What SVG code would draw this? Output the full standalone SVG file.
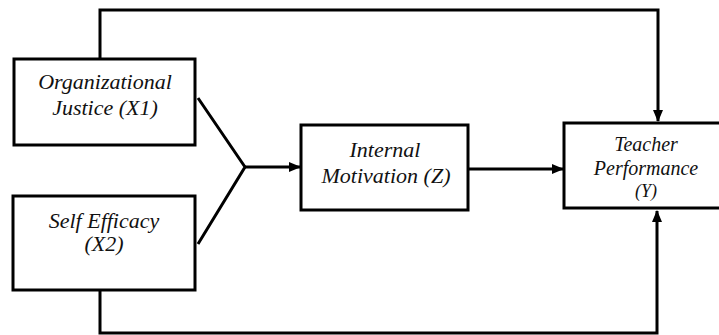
<svg xmlns="http://www.w3.org/2000/svg" width="719" height="335" viewBox="0 0 719 335">
<style>
.box{fill:#fff;stroke:#000;stroke-width:3}
.ln{fill:none;stroke:#000;stroke-width:3}
text{font-family:"Liberation Serif","Times New Roman",serif;font-style:italic;font-size:22px;text-anchor:middle;fill:#111}
.s{font-size:20px}
.t{font-size:18px}
</style>
<defs>
<marker id="ah" markerWidth="12" markerHeight="10" refX="11" refY="5" orient="auto" markerUnits="userSpaceOnUse">
<path d="M0,0 L12,5 L0,10 Z" fill="#000"/>
</marker>
</defs>
<g id="connectors">
<polyline class="ln" points="100,59 100,10 658,10 658,121" marker-end="url(#ah)"/>
<polyline class="ln" points="100,290 100,333 657,333 657,211" marker-end="url(#ah)"/>
<polyline class="ln" points="198,98 245,167 198,244"/>
<line class="ln" x1="244" y1="167" x2="300" y2="167" marker-end="url(#ah)"/>
<line class="ln" x1="468" y1="169" x2="563" y2="169" marker-end="url(#ah)"/>
</g>
<g id="x1"><rect class="box" x="14" y="59" width="181" height="86"/>
<text x="105" y="89">Organizational</text><text x="105" y="115">Justice (X1)</text></g>
<g id="x2"><rect class="box" x="13" y="196" width="182" height="94"/>
<text x="104" y="228">Self Efficacy</text><text x="104" y="251">(X2)</text></g>
<g id="z"><rect class="box" x="301" y="125" width="167" height="85"/>
<text x="385" y="157">Internal</text><text x="386" y="183">Motivation (Z)</text></g>
<g id="y"><rect class="box" x="564" y="123" width="164" height="85"/>
<text class="s" x="646" y="151">Teacher</text><text class="s" x="646" y="175">Performance</text><text class="t" x="646" y="197">(Y)</text></g>
</svg>
